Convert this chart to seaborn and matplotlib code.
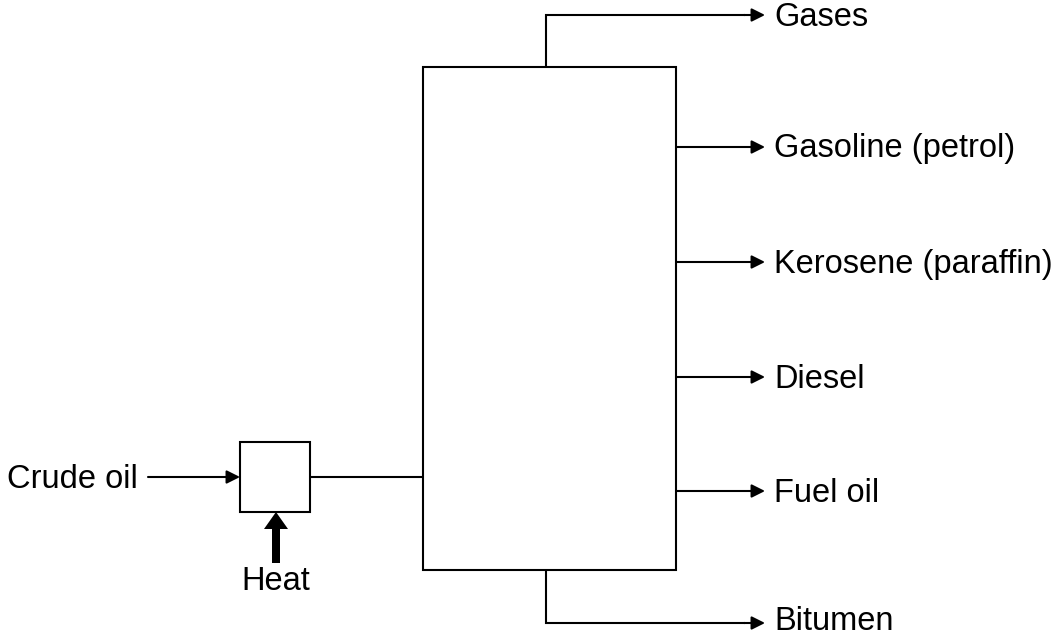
import matplotlib
matplotlib.use("Agg")
import matplotlib.pyplot as plt
import matplotlib.patches as mpatches
import seaborn as sns

# Diagram content
products = ["Gases", "Gasoline (petrol)", "Kerosene (paraffin)", "Diesel", "Fuel oil", "Bitumen"]
outlet_y = [15, 147, 262, 377, 491, 623]   # vertical positions of product outlets (px)
feed_label = "Crude oil"
heat_label = "Heat"

sns.set_theme(style="white")
plt.rcParams['font.family'] = ['Liberation Sans', 'DejaVu Sans']

W, H = 1061, 638
fig = plt.figure(figsize=(W / 100, H / 100), dpi=100)
ax = fig.add_axes([0, 0, 1, 1])
ax.set_xlim(0, W)
ax.set_ylim(H, 0)
ax.axis("off")

lw = 1.5
fs = 23.5
k = "black"
dy_txt = 2

# column
col_l, col_r, col_t, col_b = 423, 676, 67, 570
ax.add_patch(mpatches.Rectangle((col_l, col_t), col_r - col_l, col_b - col_t,
                                fill=False, ec=k, lw=lw))
# furnace box
bx_l, bx_r, bx_t, bx_b = 240, 310, 442, 512
ax.add_patch(mpatches.Rectangle((bx_l, bx_t), bx_r - bx_l, bx_b - bx_t,
                                fill=False, ec=k, lw=lw))

feed_y = (bx_t + bx_b) / 2
arrow_kw = dict(arrowstyle="-|>", lw=lw, color=k, mutation_scale=20,
                shrinkA=0, shrinkB=0)

# crude oil feed
ax.annotate("", xy=(bx_l, feed_y), xytext=(148, feed_y), arrowprops=arrow_kw)
ax.text(138, feed_y + dy_txt, feed_label, ha="right", va="center", fontsize=fs, color=k)
# furnace to column
ax.plot([bx_r, col_l], [feed_y, feed_y], color=k, lw=lw, solid_capstyle="butt")

# heat arrow
hx = (bx_l + bx_r) / 2 + 1
ax.add_patch(mpatches.FancyArrow(hx, 563, 0, -(563 - bx_b), width=8, head_width=24,
                                 head_length=17, length_includes_head=True,
                                 color=k, lw=0))
ax.text(hx, 581, heat_label, ha="center", va="center", fontsize=fs, color=k)

# outlets
tip_x = 765
pipe_x = 546
for name, y in zip(products, outlet_y):
    if y < col_t or y > col_b:
        y0 = col_t if y < col_t else col_b
        ax.plot([pipe_x, pipe_x, tip_x - 20], [y0, y, y], color=k, lw=lw,
                solid_joinstyle="miter", solid_capstyle="butt")
        start = tip_x - 21
    else:
        start = col_r
    ax.annotate("", xy=(tip_x, y), xytext=(start, y), arrowprops=arrow_kw)
    ty = y + dy_txt if y < col_b else y - 1
    ax.text(tip_x + 9, ty, name, ha="left", va="center", fontsize=fs, color=k)

fig.savefig("out.png", dpi=100, facecolor="white")
